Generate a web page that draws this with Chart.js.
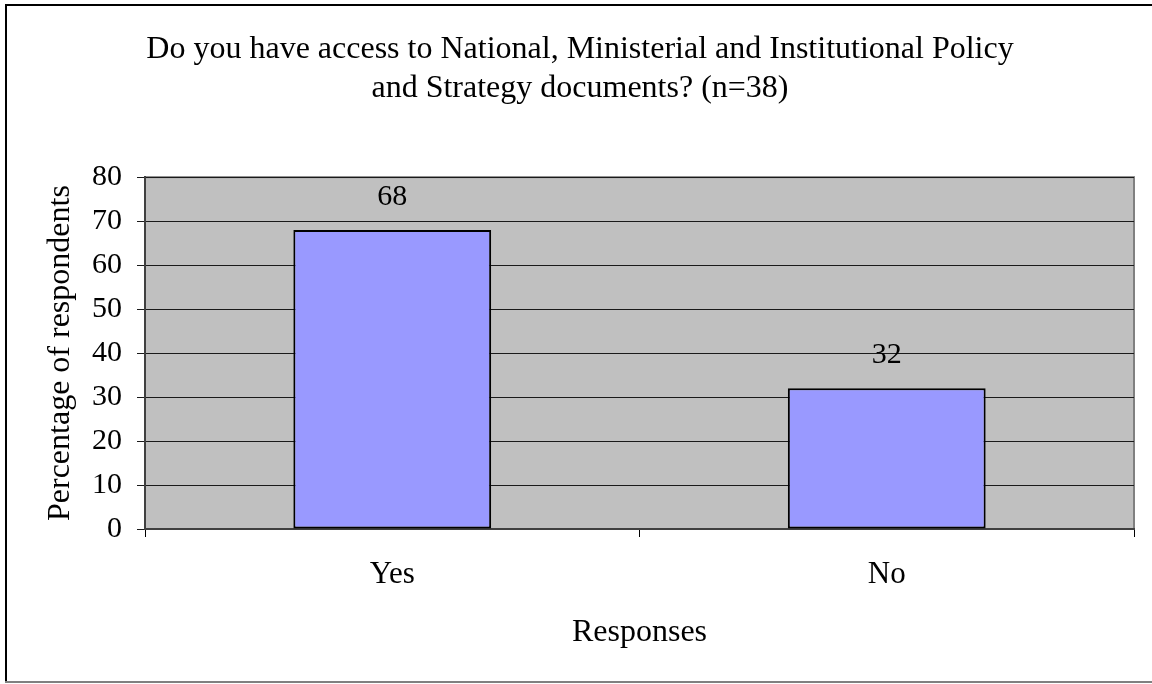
<!DOCTYPE html>
<html>
<head>
<meta charset="utf-8">
<script src="https://cdn.jsdelivr.net/npm/chart.js@4.4.0/dist/chart.umd.min.js"></script>
<style>
  html, body { margin: 0; padding: 0; background: #fff; }
  #wrap { width: 1152px; height: 684px; }
</style>
</head>
<body>
<div id="wrap"><canvas id="chart" width="1152" height="684"></canvas></div>
<script>
// chart data
const categories = ['Yes', 'No'];
const percentages = [68, 32];
const yTicks = [0, 10, 20, 30, 40, 50, 60, 70, 80];

const serif = '"Liberation Serif", "Times New Roman", serif';

// grey plot area + outer frame
const backdrop = {
    id: 'backdrop',
    beforeDraw(chart) {
        const { ctx, chartArea: a } = chart;
        ctx.save();
        ctx.fillStyle = '#c0c0c0';
        ctx.fillRect(a.left, a.top, a.right - a.left, a.bottom - a.top);
        ctx.strokeStyle = '#808080';
        ctx.lineWidth = 2;
        ctx.strokeRect(a.left, a.top, a.right - a.left, a.bottom - a.top);
        // outer frame
        ctx.fillStyle = '#000';
        ctx.fillRect(5, 4, 1152, 2);
        ctx.fillRect(5, 4, 2, 679);
        ctx.fillStyle = '#808080';
        ctx.fillRect(5, 681, 1152, 2);
        ctx.restore();
    }
};

// value labels above bars
const valueLabels = {
    id: 'valueLabels',
    afterDatasetsDraw(chart) {
        const { ctx } = chart;
        const meta = chart.getDatasetMeta(0);
        ctx.save();
        ctx.font = '30px ' + serif;
        ctx.fillStyle = '#000';
        ctx.textAlign = 'center';
        ctx.textBaseline = 'middle';
        meta.data.forEach((bar, i) => {
            ctx.fillText(String(percentages[i]), bar.x, bar.y - 33);
        });
        ctx.restore();
    }
};

const ctx = document.getElementById('chart').getContext('2d');
new Chart(ctx, {
    type: 'bar',
    data: {
        labels: categories,
        datasets: [{
            data: percentages,
            backgroundColor: '#9999ff',
            borderColor: '#000',
            borderWidth: 2,
            borderSkipped: false,
            barPercentage: 0.4,
            categoryPercentage: 1.0
        }]
    },
    options: {
        responsive: false,
        animation: false,
        layout: { padding: { left: 26, right: 18, top: 0, bottom: 0 } },
        plugins: {
            legend: { display: false },
            tooltip: { enabled: false },
            title: {
                display: true,
                text: ['Do you have access to National, Ministerial and Institutional Policy',
                       'and Strategy documents? (n=38)'],
                color: '#000',
                font: { family: serif, size: 32, weight: 'normal', lineHeight: 1.19 },
                padding: { top: 31, bottom: 70 }
            }
        },
        scales: {
            x: {
                offset: true,
                grid: {
                    offset: true,
                    drawOnChartArea: false,
                    color: '#000',
                    tickLength: 8
                },
                border: { color: '#404040', width: 2 },
                ticks: {
                    color: '#000',
                    padding: 19,
                    font: { family: serif, size: 31 }
                },
                title: {
                    display: true,
                    text: 'Responses',
                    color: '#000',
                    font: { family: serif, size: 32 },
                    padding: { top: 24, bottom: 32 }
                },
                afterFit(scale) { scale.height = 155; }
            },
            y: {
                min: 0,
                max: 80,
                afterBuildTicks(scale) {
                    scale.ticks = yTicks.map(v => ({ value: v }));
                },
                grid: {
                    color: '#1a1a1a',
                    tickLength: 8
                },
                border: { color: '#404040', width: 2 },
                ticks: {
                    color: '#000',
                    padding: 15,
                    font: { family: serif, size: 30 }
                },
                title: {
                    display: true,
                    text: 'Percentage of respondents',
                    color: '#000',
                    font: { family: serif, size: 32 },
                    padding: { top: 15, bottom: 0 }
                },
                afterFit(scale) { scale.width = 119; }
            }
        }
    },
    plugins: [backdrop, valueLabels]
});
</script>
</body>
</html>
